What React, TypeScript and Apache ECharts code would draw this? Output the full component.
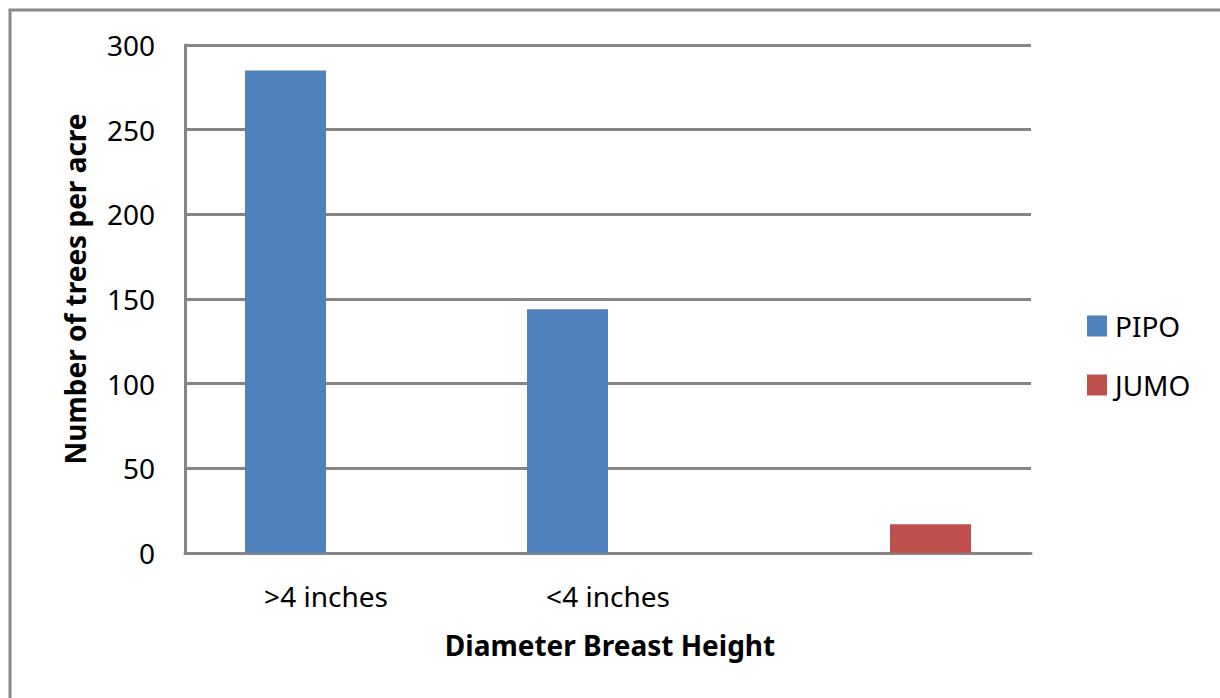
import React, { useEffect, useRef } from "react";
import * as echarts from "echarts";

const categories = [">4 inches", "<4 inches", ""];
const pipoValues = [285, 144, 0];
const jumoValues = [0, 0, 17];
const yTicks = [0, 50, 100, 150, 200, 250, 300];

const FONT = "'Noto Sans', 'Open Sans', sans-serif";
const GRID_COLOR = "#868686";

export default function App() {
  const ref = useRef<HTMLDivElement>(null);
  useEffect(() => {
    if (!ref.current) return;
    const chart = echarts.init(ref.current, null, { renderer: "svg" });
    chart.setOption({
      animation: false,
      backgroundColor: "#ffffff",
      textStyle: { fontFamily: FONT },
      grid: { left: 185, top: 45, width: 846, height: 508, containLabel: false },
      legend: {
        orient: "vertical",
        left: 1082,
        top: 307,
        itemWidth: 20,
        itemHeight: 21,
        itemGap: 31,
        icon: "rect",
        textStyle: { fontSize: 28, color: "#000", fontFamily: FONT, lineHeight: 21, padding: [0, 0, 0, 3] },
        data: ["PIPO", "JUMO"],
      },
      xAxis: {
        type: "category",
        data: categories,
        axisLine: { show: true, lineStyle: { color: GRID_COLOR, width: 3 } },
        axisTick: { show: false },
        axisLabel: { fontSize: 28, color: "#000", margin: 29, fontFamily: FONT },
      },
      yAxis: {
        type: "value",
        min: yTicks[0],
        max: yTicks[yTicks.length - 1],
        interval: 50,
        axisLine: { show: true, lineStyle: { color: GRID_COLOR, width: 3 } },
        axisTick: { show: false },
        splitLine: { show: true, lineStyle: { color: GRID_COLOR, width: 3 } },
        axisLabel: { fontSize: 28, color: "#000", margin: 30, fontFamily: FONT },
      },
      series: [
        {
          name: "PIPO",
          type: "bar",
          data: pipoValues,
          barWidth: 81,
          barGap: "0%",
          itemStyle: { color: "#4F81BD" },
        },
        {
          name: "JUMO",
          type: "bar",
          data: jumoValues,
          barWidth: 81,
          barGap: "0%",
          itemStyle: { color: "#C0504D" },
        },
      ],
      graphic: [
        {
          type: "rect",
          shape: { x: 10, y: 10, width: 1230, height: 720 },
          style: { fill: "none", stroke: "#8a8a8a", lineWidth: 3 },
          silent: true,
        },
        {
          type: "text",
          x: 610,
          y: 645,
          style: {
            text: "Diameter Breast Height",
            font: "bold 28px 'Noto Sans', sans-serif",
            fill: "#000",
            align: "center",
            verticalAlign: "middle",
          },
        },
        {
          type: "text",
          x: 75,
          y: 289,
          rotation: Math.PI / 2,
          style: {
            text: "Number of trees per acre",
            font: "bold 28px 'Noto Sans', sans-serif",
            fill: "#000",
            align: "center",
            verticalAlign: "middle",
          },
        },
      ],
    });
    return () => chart.dispose();
  }, []);
  return (
    <div
      ref={ref}
      style={{ position: "absolute", left: 0, top: 0, width: 1220, height: 698, background: "#fff" }}
    />
  );
}
